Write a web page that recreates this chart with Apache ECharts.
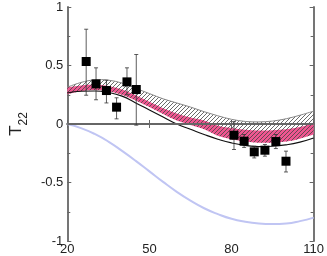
<!DOCTYPE html>
<html><head><meta charset="utf-8">
<script src="https://cdn.jsdelivr.net/npm/echarts@6/dist/echarts.min.js"></script>
<style>html,body{margin:0;padding:0;background:#fff}#c{width:327px;height:256px}</style>
</head><body><div id="c"></div>
<script>
// curve sample positions
const xs = [20,25,30,35,40,45,50,55,60,65,70,75,80,85,90,95,100,105,110];
// black solid curve
const blackLine = [0.265,0.28,0.282,0.27,0.238,0.18,0.12,0.06,0.0,-0.045,-0.09,-0.13,-0.162,-0.183,-0.193,-0.19,-0.178,-0.155,-0.12];
// pink band bounds
const pinkLo = [0.255,0.28,0.29,0.28,0.25,0.2,0.145,0.085,0.03,-0.008,-0.045,-0.1,-0.13,-0.15,-0.16,-0.16,-0.15,-0.125,-0.09];
const pinkHi = [0.315,0.33,0.338,0.325,0.295,0.245,0.19,0.135,0.09,0.055,0.03,-0.015,-0.035,-0.05,-0.055,-0.053,-0.045,-0.025,0.005];
// hatched band upper bound (lower bound = pinkLo)
const hatchHi = [0.315,0.355,0.378,0.375,0.35,0.305,0.26,0.215,0.18,0.145,0.105,0.07,0.04,0.022,0.018,0.025,0.045,0.075,0.11];
// light blue curve
const blueLine = [0.0,-0.035,-0.085,-0.15,-0.23,-0.315,-0.405,-0.495,-0.58,-0.655,-0.72,-0.77,-0.81,-0.835,-0.85,-0.855,-0.85,-0.83,-0.8];
// data points
const ptX  = [26.9,30.5,34.3,38.0,41.8,45.2,80.9,84.6,88.3,92.2,96.2,99.9];
const ptY  = [0.534,0.343,0.286,0.144,0.36,0.295,-0.096,-0.147,-0.238,-0.224,-0.15,-0.318];
const ptLo = [0.246,0.207,0.18,0.044,0.25,-0.01,-0.218,-0.2,-0.29,-0.275,-0.21,-0.41];
const ptHi = [0.81,0.48,0.374,0.224,0.48,0.594,0.02,-0.09,-0.19,-0.175,-0.09,-0.232];
const xTicks = [20,50,80,110];
const yTicks = [-1,-0.5,0,0.5,1];

const pair = (a) => xs.map((x,i)=>[x,a[i]]);

// hatch pattern
const hc = document.createElement('canvas');
hc.width = 4; hc.height = 4;
const g = hc.getContext('2d');
g.strokeStyle = '#444'; g.lineWidth = 0.8;
g.beginPath(); g.moveTo(0,4); g.lineTo(4,0); g.moveTo(-1,1); g.lineTo(1,-1); g.moveTo(3,5); g.lineTo(5,3); g.stroke();

// cardinal spline path through pixel points
function splineSeg(pts, first) {
  let d = first ? 'M' + pts[0][0] + ' ' + pts[0][1] : 'L' + pts[0][0] + ' ' + pts[0][1];
  for (let i = 0; i < pts.length - 1; i++) {
    const p0 = pts[Math.max(i-1,0)], p1 = pts[i], p2 = pts[i+1], p3 = pts[Math.min(i+2, pts.length-1)];
    const c1 = [p1[0] + (p2[0]-p0[0])/6, p1[1] + (p2[1]-p0[1])/6];
    const c2 = [p2[0] - (p3[0]-p1[0])/6, p2[1] - (p3[1]-p1[1])/6];
    d += ' C' + c1[0] + ' ' + c1[1] + ' ' + c2[0] + ' ' + c2[1] + ' ' + p2[0] + ' ' + p2[1];
  }
  return d;
}
function bandRender(lo, hi, fill, edge) {
  return (params, api) => {
    if (params.dataIndex !== 0) return null;
    const up = xs.map((x,i)=>api.coord([x, hi[i]]));
    const dn = xs.map((x,i)=>api.coord([x, lo[i]])).reverse();
    const d = splineSeg(up, true) + ' ' + splineSeg(dn, false) + ' Z';
    const children = [{type:'path', shape:{pathData:d}, style:{fill:fill, stroke:null}}];
    if (edge) children.push({type:'path', shape:{pathData:splineSeg(up, true)}, style:{fill:null, stroke:edge, lineWidth:1}});
    return {type:'group', children};
  };
}

const chart = echarts.init(document.getElementById('c'), null, {renderer:'canvas'});
const axisLine = {lineStyle:{color:'#666', width:1.8}};
const font = 'Liberation Sans';
chart.setOption({
  animation:false,
  grid:{left:49, right:13, top:7, bottom:15},
  xAxis:[
    {type:'value', min:20, max:110, interval:30, axisLine:axisLine,
     axisTick:{inside:true, length:4, lineStyle:{color:'#666'}}, splitLine:{show:false},
     axisLabel:{margin:2, color:'#222', fontSize:13, fontFamily:font, formatter:(v)=>xTicks.includes(v)?String(v):''}},
    {type:'value', position:'top', min:20, max:110, interval:30, axisLine:axisLine,
     axisTick:{inside:true, length:4, lineStyle:{color:'#666'}}, axisLabel:{show:false}, splitLine:{show:false}}
  ],
  yAxis:[
    {type:'value', min:-1, max:1, interval:0.5, axisLine:axisLine,
     axisTick:{inside:true, length:4, lineStyle:{color:'#666'}},
     minorTick:{show:true, splitNumber:2, length:3, lineStyle:{color:'#666'}},
     splitLine:{show:false},
     axisLabel:{margin:4, color:'#222', fontSize:13, fontFamily:font, formatter:(v)=>yTicks.includes(v)?String(v):''},
     name:'{t|T}{s|22}', nameLocation:'middle', nameGap:28, nameRotate:90,
     nameTextStyle:{rich:{t:{fontSize:17, fontFamily:font, color:'#222', lineHeight:17, verticalAlign:'top'},
                          s:{fontSize:12, fontFamily:font, color:'#222', lineHeight:12, padding:[10,0,0,0], verticalAlign:'top'}}}},
    {type:'value', position:'right', min:-1, max:1, interval:0.5, axisLine:axisLine,
     axisTick:{inside:true, length:4, lineStyle:{color:'#666'}},
     minorTick:{show:true, splitNumber:2, length:3, lineStyle:{color:'#666'}},
     splitLine:{show:false}, axisLabel:{show:false}}
  ],
  series:[
    {type:'line', data:pair(blueLine), smooth:true, symbol:'none', z:1,
     lineStyle:{color:'#c0c5f3', width:2}},
    {type:'custom', z:2, data:pair(pinkLo), renderItem:bandRender(pinkLo, pinkHi, '#ef5690', null)},
    {type:'custom', z:3, data:pair(pinkLo), renderItem:bandRender(pinkLo, hatchHi, {image:hc, repeat:'repeat'}, '#888')},
    {type:'line', data:pair(blackLine), smooth:true, symbol:'none', z:4, lineStyle:{color:'#111', width:1.2},
     markLine:{silent:true, symbol:'none', label:{show:false}, lineStyle:{color:'#666', width:1.8, type:'solid'}, data:[{yAxis:0}]}},
    {type:'custom', z:6, data:ptX.map((x,i)=>[x,ptLo[i],ptHi[i]]),
     renderItem:(params, api)=>{
       const x = api.value(0);
       const lo = api.coord([x, api.value(1)]);
       const hi = api.coord([x, api.value(2)]);
       const st = {stroke:'#333', lineWidth:0.8};
       return {type:'group', children:[
         {type:'line', shape:{x1:lo[0], y1:lo[1], x2:hi[0], y2:hi[1]}, style:st},
         {type:'line', shape:{x1:lo[0]-2, y1:lo[1], x2:lo[0]+2, y2:lo[1]}, style:st},
         {type:'line', shape:{x1:hi[0]-2, y1:hi[1], x2:hi[0]+2, y2:hi[1]}, style:st}
       ]};
     }},
    {type:'scatter', z:7, data:ptX.map((x,i)=>[x,ptY[i]]), symbol:'rect', symbolSize:9,
     itemStyle:{color:'#000', opacity:1}}
  ]
});
</script></body></html>
